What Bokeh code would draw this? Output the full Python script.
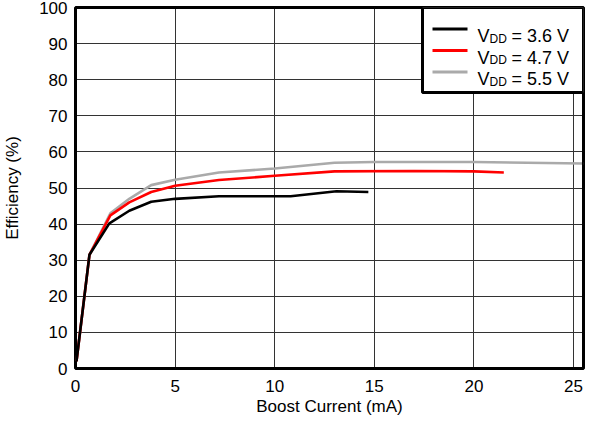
from bokeh.plotting import figure
from bokeh.models import Range1d, FixedTicker, BoxAnnotation, Label
from bokeh.embed import file_html
from bokeh.resources import INLINE

# ---- data ----
x_36 = [0.05, 0.7, 1.7, 2.7, 3.8, 5.0, 7.2, 10.8, 13.1, 14.7]
y_36 = [2.0, 31.5, 40.2, 43.7, 46.2, 47.0, 47.7, 47.7, 49.1, 48.9]

x_47 = [0.05, 0.7, 1.75, 2.7, 3.8, 5.0, 7.2, 10.0, 13.0, 17.0, 20.0, 21.5]
y_47 = [2.0, 31.5, 42.4, 46.0, 48.9, 50.6, 52.2, 53.4, 54.6, 54.7, 54.6, 54.3]

x_55 = [0.05, 0.7, 1.75, 2.7, 3.8, 5.0, 7.2, 10.0, 13.0, 15.0, 20.0, 25.5]
y_55 = [2.0, 31.5, 43.0, 47.0, 50.8, 52.3, 54.3, 55.4, 57.0, 57.2, 57.2, 56.8]

series_labels = ["= 3.6 V", "= 4.7 V", "= 5.5 V"]
series_colors = ["#000000", "#ff0000", "#aaaaaa"]
x_ticks = [0, 5, 10, 15, 20, 25]
y_ticks = [0, 10, 20, 30, 40, 50, 60, 70, 80, 90, 100]

XMAX, YMAX = 25.5, 100.0
FONT = "Liberation Sans"

p = figure(frame_width=508, frame_height=361, output_backend="svg", toolbar_location=None,
           x_range=Range1d(0, XMAX), y_range=Range1d(0, YMAX),
           min_border_left=72, min_border_right=20, min_border_top=7, min_border_bottom=49)
p.background_fill_color = "white"
p.border_fill_color = "white"
p.outline_line_color = "black"
p.outline_line_width = 3

for ax, ticks in ((p.xaxis[0], x_ticks), (p.yaxis[0], y_ticks)):
    ax.ticker = FixedTicker(ticks=ticks)
    ax.axis_line_color = None
    ax.major_tick_line_color = None
    ax.minor_tick_line_color = None
    ax.major_tick_out = 0
    ax.major_tick_in = 0
    ax.minor_tick_out = 0
    ax.minor_tick_in = 0
    ax.major_label_text_font = FONT
    ax.major_label_text_font_size = "17px"
    ax.major_label_text_color = "black"
    ax.axis_label_text_font = FONT
    ax.axis_label_text_font_size = "17px"
    ax.axis_label_text_font_style = "normal"
    ax.axis_label_text_color = "black"

p.xaxis.axis_label = "Boost Current (mA)"
p.yaxis.axis_label = "Efficiency (%)"
p.xaxis.major_label_standoff = 11
p.yaxis.major_label_standoff = 8
p.xaxis.axis_label_standoff = 2
p.yaxis.axis_label_standoff = 14

p.xgrid.ticker = FixedTicker(ticks=x_ticks)
p.ygrid.ticker = FixedTicker(ticks=y_ticks)
for g in (p.xgrid[0], p.ygrid[0]):
    g.grid_line_color = "#333333"
    g.grid_line_width = 1

for xs, ys, c in ((x_55, y_55, series_colors[2]), (x_47, y_47, series_colors[1]), (x_36, y_36, series_colors[0])):
    p.line(xs, ys, line_color=c, line_width=2.6)

# frame border drawn on top
p.add_layout(BoxAnnotation(fill_alpha=0, line_color="black", line_alpha=1.0, line_width=3))

# ---- custom legend (pixel layout converted to data coords) ----
fx0, fx1, fy0, fy1 = 80.0, 588.0, 15.0, 376.0
def dx(px):
    return (px - fx0) / (fx1 - fx0) * XMAX
def dy(py):
    return (fy1 - py) / (fy1 - fy0) * YMAX

p.add_layout(BoxAnnotation(left=dx(427), right=XMAX, bottom=dy(100), top=YMAX,
                           fill_color="white", fill_alpha=1.0,
                           line_color="black", line_alpha=1.0, line_width=3))

row_mid = [36.5, 58.0, 79.5]
for i in range(3):
    ym = row_mid[i]
    p.add_layout(BoxAnnotation(left=dx(437), right=dx(472), bottom=dy(ym + 1.5), top=dy(ym - 1.5),
                               fill_color=series_colors[i], fill_alpha=1.0, line_color=None))
    base = ym + 7
    p.add_layout(Label(x=dx(482), y=dy(base), text="V", text_font=FONT, text_font_size="18px",
                       text_color="black", text_baseline="alphabetic"))
    p.add_layout(Label(x=dx(494), y=dy(base + 2.5), text="DD", text_font=FONT, text_font_size="12px",
                       text_color="black", text_baseline="alphabetic"))
    p.add_layout(Label(x=dx(516), y=dy(base), text=series_labels[i], text_font=FONT, text_font_size="18px",
                       text_color="black", text_baseline="alphabetic"))

p.add_layout(Label(x=dx(603), y=dy(419), text="D003", text_font=FONT, text_font_size="12px",
                   text_color="#999999", text_align="right", text_baseline="alphabetic"))

open("out.html", "w").write(file_html(p, INLINE))
